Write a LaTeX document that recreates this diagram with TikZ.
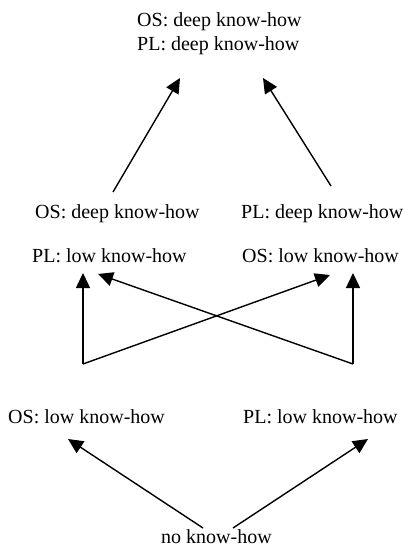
\documentclass[tikz,border=0pt]{standalone}
\usepackage{fontspec}
\setmainfont{Liberation Serif}
\usetikzlibrary{arrows.meta}
\begin{document}
\begin{tikzpicture}[x=1pt,y=-1pt,
  lbl/.style={inner sep=0pt,font=\fontsize{20}{24.5}\selectfont,anchor=base west},
  arr/.style={line width=1.4pt,-{Triangle[length=15pt,width=14pt]}}]
\useasboundingbox (0,0) rectangle (406,546);
% text nodes
\node[lbl,anchor=north west,align=left] (top) at (137,12) {OS: deep know-how\\PL: deep know-how};
\node[lbl] (lDeep) at (35,218) {OS: deep know-how};
\node[lbl] (rDeep) at (241,218) {PL: deep know-how};
\node[lbl] (lLow) at (32,262) {PL: low know-how};
\node[lbl] (rLow) at (242,262) {OS: low know-how};
\node[lbl] (bL) at (8,423) {OS: low know-how};
\node[lbl] (bR) at (243,423) {PL: low know-how};
\node[lbl] (none) at (161,543) {no know-how};
% connector end points
\coordinate (tA) at (180,78);
\coordinate (tB) at (263,78);
\coordinate (sA) at (113,192);
\coordinate (sB) at (331,186);
\coordinate (cL) at (83,364);
\coordinate (cR) at (353,364);
\coordinate (lUp) at (83,273);
\coordinate (lX) at (98,274);
\coordinate (rUp) at (353,273);
\coordinate (rX) at (330,275);
\coordinate (nL) at (203,528);
\coordinate (nR) at (233,528);
\coordinate (bLt) at (68,439);
\coordinate (bRt) at (368,439);
% connectors
\draw[arr] (sA) -- (tA);
\draw[arr] (sB) -- (tB);
\draw[arr] (cL) -- (lUp);
\draw[arr] (cL) -- (rX);
\draw[arr] (cR) -- (rUp);
\draw[arr] (cR) -- (lX);
\draw[arr] (nL) -- (bLt);
\draw[arr] (nR) -- (bRt);
\end{tikzpicture}
\end{document}
